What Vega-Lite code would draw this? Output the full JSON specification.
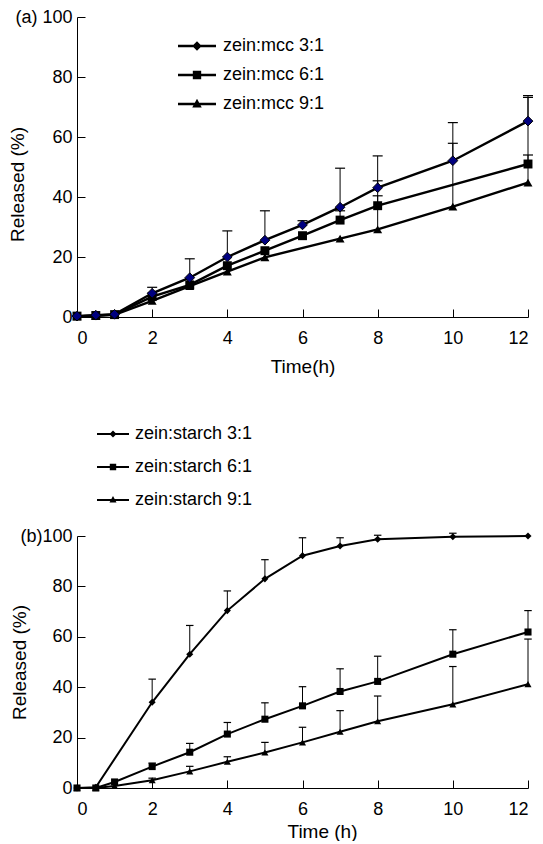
{
  "$schema": "https://vega.github.io/schema/vega-lite/v6.json",
  "padding": {"left": 8, "top": 8, "right": 8, "bottom": 0},
  "spacing": 41,
  "resolve": {"scale": {"shape": "independent"}, "legend": {"shape": "independent"}},
  "config": {
    "font": "Liberation Sans",
    "view": {"stroke": null},
    "axis": {
      "grid": false,
      "domainColor": "black",
      "tickColor": "black",
      "labelColor": "black",
      "titleColor": "black",
      "labelFont": "Liberation Sans",
      "titleFont": "Liberation Sans",
      "labelFontSize": 18,
      "titleFontSize": 19,
      "titleFontWeight": "normal",
      "tickSize": -8,
      "domainWidth": 1,
      "tickWidth": 1
    },
    "legend": {
      "labelFont": "Liberation Sans",
      "labelFontSize": 18,
      "labelColor": "black",
      "padding": 0
    }
  },
  "datasets": {
    "a": [
      {"series": "zein:mcc 3:1", "t": 0, "v": 0.3},
      {"series": "zein:mcc 3:1", "t": 0.5, "v": 0.6},
      {"series": "zein:mcc 3:1", "t": 1, "v": 0.9},
      {"series": "zein:mcc 3:1", "t": 2, "v": 7.9, "hi": 9.9},
      {"series": "zein:mcc 3:1", "t": 3, "v": 13.1, "hi": 19.4},
      {"series": "zein:mcc 3:1", "t": 4, "v": 20.0, "hi": 28.7},
      {"series": "zein:mcc 3:1", "t": 5, "v": 25.6, "hi": 35.4},
      {"series": "zein:mcc 3:1", "t": 6, "v": 30.7, "hi": 32.1},
      {"series": "zein:mcc 3:1", "t": 7, "v": 36.6, "hi": 49.6},
      {"series": "zein:mcc 3:1", "t": 8, "v": 43.1, "hi": 53.7},
      {"series": "zein:mcc 3:1", "t": 10, "v": 52.1, "hi": 64.8},
      {"series": "zein:mcc 3:1", "t": 12, "v": 65.3, "hi": 73.8},
      {"series": "zein:mcc 6:1", "t": 0, "v": 0.3},
      {"series": "zein:mcc 6:1", "t": 0.5, "v": 0.5},
      {"series": "zein:mcc 6:1", "t": 1, "v": 0.8},
      {"series": "zein:mcc 6:1", "t": 2, "v": 6.8},
      {"series": "zein:mcc 6:1", "t": 3, "v": 10.7},
      {"series": "zein:mcc 6:1", "t": 4, "v": 17.1},
      {"series": "zein:mcc 6:1", "t": 5, "v": 22.1},
      {"series": "zein:mcc 6:1", "t": 6, "v": 27.1},
      {"series": "zein:mcc 6:1", "t": 7, "v": 32.3, "hi": 35.4},
      {"series": "zein:mcc 6:1", "t": 8, "v": 37.1, "hi": 45.4},
      {"series": "zein:mcc 6:1", "t": 12, "v": 51.0, "hi": 54.0},
      {"series": "zein:mcc 9:1", "t": 0, "v": 0.2},
      {"series": "zein:mcc 9:1", "t": 0.5, "v": 0.4},
      {"series": "zein:mcc 9:1", "t": 1, "v": 0.7},
      {"series": "zein:mcc 9:1", "t": 2, "v": 5.4},
      {"series": "zein:mcc 9:1", "t": 3, "v": 10.3},
      {"series": "zein:mcc 9:1", "t": 4, "v": 15.1},
      {"series": "zein:mcc 9:1", "t": 5, "v": 19.9},
      {"series": "zein:mcc 9:1", "t": 7, "v": 26.1},
      {"series": "zein:mcc 9:1", "t": 8, "v": 29.2, "hi": 40.4},
      {"series": "zein:mcc 9:1", "t": 10, "v": 36.8, "hi": 57.9},
      {"series": "zein:mcc 9:1", "t": 12, "v": 44.8, "hi": 73.2}
    ],
    "b": [
      {"series": "zein:starch 3:1", "t": 0, "v": 0},
      {"series": "zein:starch 3:1", "t": 0.5, "v": 0.3},
      {"series": "zein:starch 3:1", "t": 2, "v": 34.0, "hi": 43.2},
      {"series": "zein:starch 3:1", "t": 3, "v": 53.1, "hi": 64.5},
      {"series": "zein:starch 3:1", "t": 4, "v": 70.4, "hi": 78.2},
      {"series": "zein:starch 3:1", "t": 5, "v": 83.0, "hi": 90.6},
      {"series": "zein:starch 3:1", "t": 6, "v": 92.2, "hi": 99.3},
      {"series": "zein:starch 3:1", "t": 7, "v": 96.0, "hi": 99.3},
      {"series": "zein:starch 3:1", "t": 8, "v": 98.7, "hi": 100.3},
      {"series": "zein:starch 3:1", "t": 10, "v": 99.7, "hi": 101.1},
      {"series": "zein:starch 3:1", "t": 12, "v": 100},
      {"series": "zein:starch 6:1", "t": 0, "v": 0},
      {"series": "zein:starch 6:1", "t": 0.5, "v": 0},
      {"series": "zein:starch 6:1", "t": 1, "v": 2.4},
      {"series": "zein:starch 6:1", "t": 2, "v": 8.5, "hi": 9.9},
      {"series": "zein:starch 6:1", "t": 3, "v": 14.2, "hi": 17.7},
      {"series": "zein:starch 6:1", "t": 4, "v": 21.4, "hi": 26.0},
      {"series": "zein:starch 6:1", "t": 5, "v": 27.3, "hi": 33.8},
      {"series": "zein:starch 6:1", "t": 6, "v": 32.6, "hi": 40.2},
      {"series": "zein:starch 6:1", "t": 7, "v": 38.3, "hi": 47.3},
      {"series": "zein:starch 6:1", "t": 8, "v": 42.3, "hi": 52.3},
      {"series": "zein:starch 6:1", "t": 10, "v": 53.1, "hi": 62.8},
      {"series": "zein:starch 6:1", "t": 12, "v": 61.9, "hi": 70.4},
      {"series": "zein:starch 9:1", "t": 0, "v": 0},
      {"series": "zein:starch 9:1", "t": 0.5, "v": 0},
      {"series": "zein:starch 9:1", "t": 1, "v": 0.8},
      {"series": "zein:starch 9:1", "t": 2, "v": 3.1, "hi": 3.9},
      {"series": "zein:starch 9:1", "t": 3, "v": 6.6, "hi": 8.6},
      {"series": "zein:starch 9:1", "t": 4, "v": 10.4, "hi": 12.4},
      {"series": "zein:starch 9:1", "t": 5, "v": 14.1, "hi": 18.1},
      {"series": "zein:starch 9:1", "t": 6, "v": 18.1, "hi": 24.1},
      {"series": "zein:starch 9:1", "t": 7, "v": 22.3, "hi": 30.7},
      {"series": "zein:starch 9:1", "t": 8, "v": 26.5, "hi": 36.5},
      {"series": "zein:starch 9:1", "t": 10, "v": 33.2, "hi": 48.2},
      {"series": "zein:starch 9:1", "t": 12, "v": 41.2, "hi": 59.1}
    ]
  },
  "vconcat": [
    {
      "width": 451,
      "height": 300,
      "data": {"name": "a"},
      "resolve": {"scale": {"shape": "independent"}},
      "encoding": {
        "x": {
          "field": "t", "type": "quantitative", "title": "Time(h)",
          "scale": {"domain": [0, 12], "nice": false, "zero": false},
          "axis": {"values": [0, 2, 4, 6, 8, 10, 12], "labelPadding": 20, "titlePadding": 10}
        },
        "y": {
          "field": "v", "type": "quantitative", "title": "Released (%)",
          "scale": {"domain": [0, 100], "nice": false},
          "axis": {"values": [0, 20, 40, 60, 80, 100], "labelPadding": 13,
                   "labelExpr": "datum.value == 100 ? '(a) 100' : datum.label",
                   "titleX": -50, "titleY": 167}
        }
      },
      "layer": [
        {
          "transform": [{"filter": "isValid(datum.hi)"}],
          "mark": {"type": "rule", "color": "black", "strokeWidth": 1},
          "encoding": {"y2": {"field": "hi"}}
        },
        {
          "transform": [{"filter": "isValid(datum.hi)"}],
          "mark": {"type": "point", "shape": "M-1,0H1", "size": 100, "filled": false, "stroke": "black", "strokeWidth": 1.2, "opacity": 1},
          "encoding": {"y": {"field": "hi", "type": "quantitative", "title": "Released (%)", "scale": {"domain": [0, 100], "nice": false}}}
        },
        {
          "mark": {"type": "line", "color": "black", "strokeWidth": 2.4},
          "encoding": {"detail": {"field": "series"}}
        },
        {
          "transform": [{"filter": "datum.series !== 'zein:mcc 3:1'"}],
          "mark": {"type": "point", "filled": true, "opacity": 1, "color": "black", "size": 80},
          "encoding": {
            "shape": {
              "field": "series",
              "scale": {"domain": ["zein:mcc 3:1", "zein:mcc 6:1", "zein:mcc 9:1"], "range": ["diamond", "square", "triangle-up"]},
              "legend": null
            }
          }
        },
        {
          "transform": [{"filter": "datum.series === 'zein:mcc 3:1'"}],
          "mark": {"type": "point", "filled": true, "opacity": 1, "shape": "diamond", "fill": "#00007f", "stroke": "black", "strokeWidth": 1, "size": 95}
        },
        {
          "transform": [{"filter": "false"}],
          "mark": {"type": "point", "filled": true, "opacity": 1, "color": "black"},
          "encoding": {
            "shape": {
              "field": "series",
              "scale": {"domain": ["zein:mcc 3:1", "zein:mcc 6:1", "zein:mcc 9:1"],
                        "range": ["M-1,-0.06H1V0.06H-1ZM0,-0.25L0.25,0L0,0.25L-0.25,0Z", "M-1,-0.06H1V0.06H-1ZM-0.22,-0.22H0.22V0.22H-0.22Z", "M-1,-0.06H1V0.06H-1ZM0,-0.28L0.25,0.18H-0.25Z"]},
              "legend": {
                "orient": "none", "legendX": 100, "legendY": 9, "title": null,
                "symbolSize": 1444, "rowPadding": -4.5, "labelOffset": 6,
                "symbolFillColor": "black", "symbolOpacity": 1
              }
            }
          }
        }
      ]
    },
    {
      "width": 451,
      "height": 252,
      "data": {"name": "b"},
      "resolve": {"scale": {"shape": "independent"}},
      "encoding": {
        "x": {
          "field": "t", "type": "quantitative", "title": "Time (h)",
          "scale": {"domain": [0, 12], "nice": false, "zero": false},
          "axis": {"values": [0, 2, 4, 6, 8, 10, 12], "labelPadding": 20, "titlePadding": 4, "titleX": 245}
        },
        "y": {
          "field": "v", "type": "quantitative", "title": "Released (%)",
          "scale": {"domain": [0, 100], "nice": false},
          "axis": {"values": [0, 20, 40, 60, 80, 100], "labelPadding": 13,
                   "labelExpr": "datum.value == 100 ? '(b)100' : datum.label",
                   "titleX": -48, "titleY": 126}
        }
      },
      "layer": [
        {
          "transform": [{"filter": "isValid(datum.hi)"}],
          "mark": {"type": "rule", "color": "black", "strokeWidth": 1},
          "encoding": {"y2": {"field": "hi"}}
        },
        {
          "transform": [{"filter": "isValid(datum.hi)"}],
          "mark": {"type": "point", "shape": "M-1,0H1", "size": 56, "filled": false, "stroke": "black", "strokeWidth": 1.2, "opacity": 1},
          "encoding": {"y": {"field": "hi", "type": "quantitative", "title": "Released (%)", "scale": {"domain": [0, 100], "nice": false}}}
        },
        {
          "mark": {"type": "line", "color": "black", "strokeWidth": 2},
          "encoding": {"detail": {"field": "series"}}
        },
        {
          "mark": {"type": "point", "filled": true, "opacity": 1, "color": "black", "size": 50},
          "encoding": {
            "shape": {
              "field": "series",
              "scale": {"domain": ["zein:starch 3:1", "zein:starch 6:1", "zein:starch 9:1"], "range": ["diamond", "square", "triangle-up"]},
              "legend": null
            }
          }
        },
        {
          "transform": [{"filter": "false"}],
          "mark": {"type": "point", "filled": true, "opacity": 1, "color": "black"},
          "encoding": {
            "shape": {
              "field": "series",
              "scale": {"domain": ["zein:starch 3:1", "zein:starch 6:1", "zein:starch 9:1"],
                        "range": ["M-1,-0.065H1V0.065H-1ZM0,-0.22L0.22,0L0,0.22L-0.22,0Z", "M-1,-0.065H1V0.065H-1ZM-0.2,-0.2H0.2V0.2H-0.2Z", "M-1,-0.065H1V0.065H-1ZM0,-0.25L0.22,0.16H-0.22Z"]},
              "legend": {
                "orient": "none", "legendX": 19, "legendY": -119, "title": null,
                "symbolSize": 1024, "rowPadding": 7, "labelOffset": 5,
                "symbolFillColor": "black", "symbolOpacity": 1
              }
            }
          }
        }
      ]
    }
  ]
}
